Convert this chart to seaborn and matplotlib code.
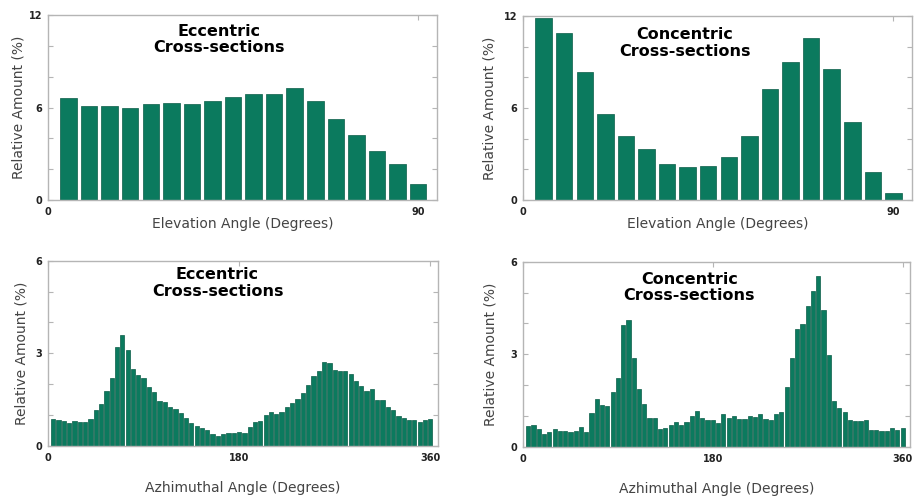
import numpy as np
import pandas as pd
import matplotlib
matplotlib.use("Agg")
import matplotlib.pyplot as plt
import seaborn as sns
from matplotlib.ticker import FixedLocator, FuncFormatter

# ---------------- data ----------------
elev_angles = list(range(5, 95, 5))  # 18 bins, 5..90 deg
elev_eccentric = [6.59, 6.10, 6.10, 5.99, 6.23, 6.29, 6.21, 6.44, 6.66,
                  6.85, 6.85, 7.24, 6.40, 5.25, 4.22, 3.20, 2.34, 1.04]
elev_concentric = [11.85, 10.87, 8.37, 5.63, 4.20, 3.35, 2.35, 2.17, 2.24,
                   2.78, 4.20, 7.22, 9.00, 10.59, 8.52, 5.09, 1.83, 0.43]

azim_angles = list(range(5, 365, 5))  # 72 bins, 5..360 deg
azim_eccentric = [0.87, 0.84, 0.81, 0.74, 0.81, 0.78, 0.78, 0.88, 1.18, 1.37,
                  1.77, 2.21, 3.20, 3.58, 3.12, 2.50, 2.29, 2.20, 1.92, 1.74,
                  1.45, 1.41, 1.25, 1.19, 1.07, 0.91, 0.73, 0.66, 0.57, 0.53,
                  0.40, 0.33, 0.38, 0.41, 0.42, 0.46, 0.43, 0.60, 0.78, 0.80,
                  1.00, 1.11, 1.02, 1.09, 1.27, 1.39, 1.53, 1.70, 1.96, 2.27,
                  2.43, 2.73, 2.69, 2.46, 2.43, 2.43, 2.32, 2.11, 1.93, 1.78,
                  1.83, 1.48, 1.49, 1.25, 1.18, 0.98, 0.90, 0.85, 0.83, 0.78,
                  0.84, 0.88]
azim_concentric = [0.67, 0.71, 0.56, 0.41, 0.47, 0.58, 0.50, 0.52, 0.48, 0.52,
                   0.65, 0.47, 1.08, 1.55, 1.36, 1.33, 1.79, 2.22, 3.94, 4.10,
                   2.87, 1.86, 1.37, 0.94, 0.94, 0.56, 0.60, 0.70, 0.80, 0.70,
                   0.79, 1.00, 1.17, 0.94, 0.88, 0.88, 0.76, 1.05, 0.92, 0.98,
                   0.91, 0.89, 1.00, 0.95, 1.06, 0.90, 0.88, 1.06, 1.14, 1.93,
                   2.89, 3.83, 3.98, 4.55, 5.04, 5.53, 4.44, 2.98, 1.49, 1.24,
                   1.13, 0.88, 0.83, 0.82, 0.85, 0.54, 0.53, 0.51, 0.52, 0.60,
                   0.54, 0.60]

elev_xticks = [0, 90]
azim_xticks = [0, 180, 360]
elev_yticks_labeled = [0, 6, 12]
azim_yticks_labeled = [0, 3, 6]
title_ecc = "Eccentric\nCross-sections"
title_con = "Concentric\nCross-sections"
ylabel = "Relative Amount (%)"
xlabel_elev = "Elevation Angle (Degrees)"
xlabel_azim = "Azhimuthal Angle (Degrees)"

# ---------------- style ----------------
sns.set_style("white")
plt.rcParams["font.family"] = ["DejaVu Sans"]

BAR = "#0b7a5e"
EDGE = "#0a5c47"
SPINE = "#b5b5b5"
TXT = "#444444"

W, H = 914, 496
fig = plt.figure(figsize=(W / 100, H / 100), dpi=100)


def px_axes(l, r, t, b):
    return fig.add_axes([l / W, 1 - b / H, (r - l) / W, (b - t) / H])


def style_axes(ax, xlim, ylim, xticks, ymajor, ylabeled, title, title_xy,
               xlabel, xlab_y, ylab_x):
    ax.set_xlim(*xlim)
    ax.set_ylim(*ylim)
    for s in ax.spines.values():
        s.set_color(SPINE)
        s.set_linewidth(1.0)
        s.set_visible(True)
    ax.xaxis.set_major_locator(FixedLocator(xticks))
    ax.xaxis.set_major_formatter(FuncFormatter(lambda v, p: f"{v:g}"))
    ax.yaxis.set_major_locator(FixedLocator(ymajor))
    ax.yaxis.set_major_formatter(
        FuncFormatter(lambda v, p: f"{v:g}" if any(abs(v - q) < 1e-6 for q in ylabeled) else ""))
    ax.tick_params(axis="both", which="major", direction="in", length=3.5,
                   width=0.8, color=SPINE, labelsize=7, labelcolor="#222222",
                   top=True, right=True, left=True, bottom=True)
    ax.tick_params(axis="x", pad=5)
    ax.tick_params(axis="y", pad=4)
    for lab in ax.get_xticklabels() + ax.get_yticklabels():
        lab.set_fontweight("bold")
    ax.set_xlabel(xlabel, fontsize=10, color=TXT)
    ax.set_ylabel(ylabel, fontsize=10, color=TXT)
    ax.xaxis.set_label_coords(0.5, xlab_y)
    ax.yaxis.set_label_coords(ylab_x, 0.5)
    ax.text(title_xy[0], title_xy[1], title, transform=ax.transAxes,
            ha="center", va="center", fontsize=11.5, fontweight="bold",
            color="black", linespacing=1.1)


def draw(ax, x, y):
    df = pd.DataFrame({"angle": x, "amount": y})
    sns.barplot(data=df, x="angle", y="amount", native_scale=True, ax=ax,
                color=BAR, saturation=1, width=0.8, errorbar=None,
                edgecolor=EDGE, linewidth=0.5)


ax1 = px_axes(48, 437, 15, 200)
draw(ax1, elev_angles, elev_eccentric)
style_axes(ax1, (0, 94.6), (0, 12), elev_xticks, list(range(0, 13, 2)),
           elev_yticks_labeled, title_ecc, (0.44, 0.868),
           xlabel_elev, -0.092, -0.059)

ax2 = px_axes(523, 912, 16, 200)
draw(ax2, elev_angles, elev_concentric)
style_axes(ax2, (0, 94.5), (0, 12), elev_xticks, list(range(0, 13, 2)),
           elev_yticks_labeled, title_con, (0.416, 0.853),
           xlabel_elev, -0.092, -0.067)

ax3 = px_axes(48, 437.7, 260.7, 446)
draw(ax3, azim_angles, azim_eccentric)
style_axes(ax3, (0, 367), (0, 6), azim_xticks, list(range(0, 7)),
           azim_yticks_labeled, title_ecc, (0.435, 0.88),
           xlabel_azim, -0.19, -0.051)

ax4 = px_axes(523, 910, 261.7, 446.7)
draw(ax4, azim_angles, azim_concentric)
style_axes(ax4, (0, 367), (0, 6), azim_xticks, list(range(0, 7)),
           azim_yticks_labeled, title_con, (0.43, 0.86),
           xlabel_azim, -0.19, -0.067)

fig.savefig("out.png", dpi=100)
